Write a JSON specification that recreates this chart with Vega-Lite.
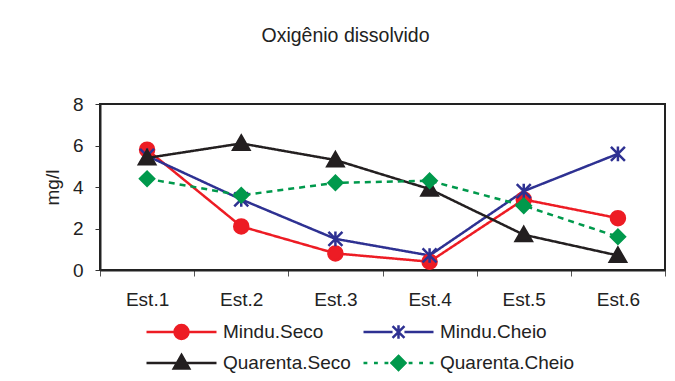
{
  "$schema": "https://vega.github.io/schema/vega-lite/v6.json",
  "width": 565,
  "height": 166,
  "autosize": {"type": "none"},
  "padding": {"left": 100, "top": 104, "right": 10, "bottom": 111},
  "background": "white",
  "title": {
    "text": "Oxigênio dissolvido",
    "anchor": "middle",
    "frame": "group",
    "dx": -37,
    "offset": 34,
    "baseline": "alphabetic",
    "font": "Liberation Sans",
    "fontSize": 19.5,
    "fontWeight": "normal",
    "color": "#222222"
  },
  "data": {
    "values": [
      {"estacao": "Est.1", "serie": "Mindu.Seco", "valor": 5.8},
      {"estacao": "Est.2", "serie": "Mindu.Seco", "valor": 2.1},
      {"estacao": "Est.3", "serie": "Mindu.Seco", "valor": 0.8},
      {"estacao": "Est.4", "serie": "Mindu.Seco", "valor": 0.4},
      {"estacao": "Est.5", "serie": "Mindu.Seco", "valor": 3.4},
      {"estacao": "Est.6", "serie": "Mindu.Seco", "valor": 2.5},
      {"estacao": "Est.1", "serie": "Mindu.Cheio", "valor": 5.5},
      {"estacao": "Est.2", "serie": "Mindu.Cheio", "valor": 3.4},
      {"estacao": "Est.3", "serie": "Mindu.Cheio", "valor": 1.5},
      {"estacao": "Est.4", "serie": "Mindu.Cheio", "valor": 0.7},
      {"estacao": "Est.5", "serie": "Mindu.Cheio", "valor": 3.8},
      {"estacao": "Est.6", "serie": "Mindu.Cheio", "valor": 5.6},
      {"estacao": "Est.1", "serie": "Quarenta.Seco", "valor": 5.4},
      {"estacao": "Est.2", "serie": "Quarenta.Seco", "valor": 6.1},
      {"estacao": "Est.3", "serie": "Quarenta.Seco", "valor": 5.3},
      {"estacao": "Est.4", "serie": "Quarenta.Seco", "valor": 3.9},
      {"estacao": "Est.5", "serie": "Quarenta.Seco", "valor": 1.7},
      {"estacao": "Est.6", "serie": "Quarenta.Seco", "valor": 0.7},
      {"estacao": "Est.1", "serie": "Quarenta.Cheio", "valor": 4.4},
      {"estacao": "Est.2", "serie": "Quarenta.Cheio", "valor": 3.6},
      {"estacao": "Est.3", "serie": "Quarenta.Cheio", "valor": 4.2},
      {"estacao": "Est.4", "serie": "Quarenta.Cheio", "valor": 4.3},
      {"estacao": "Est.5", "serie": "Quarenta.Cheio", "valor": 3.1},
      {"estacao": "Est.6", "serie": "Quarenta.Cheio", "valor": 1.6}
    ]
  },
  "encoding": {
    "x": {
      "field": "estacao",
      "type": "nominal",
      "sort": ["Est.1", "Est.2", "Est.3", "Est.4", "Est.5", "Est.6"],
      "bandPosition": 0.5,
      "scale": {"type": "band", "paddingInner": 0, "paddingOuter": 0},
      "axis": {
        "title": null,
        "labelAngle": 0,
        "tickBand": "extent",
        "tickSize": 6,
        "tickColor": "#555555",
        "domainColor": "#222222",
        "domainWidth": 2,
        "labelPadding": 14,
        "labelFont": "Liberation Sans",
        "labelFontSize": 19,
        "labelColor": "#222222",
        "grid": false
      }
    },
    "y": {
      "field": "valor",
      "type": "quantitative",
      "scale": {"domain": [0, 8], "nice": false, "zero": true},
      "axis": {
        "title": "mg/l",
        "values": [0, 2, 4, 6, 8],
        "grid": false,
        "tickSize": 5,
        "tickColor": "#333333",
        "domainColor": "#222222",
        "domainWidth": 2,
        "labelPadding": 12,
        "labelFont": "Liberation Sans",
        "labelFontSize": 19,
        "labelColor": "#222222",
        "titleFont": "Liberation Sans",
        "titleFontSize": 19,
        "titleFontWeight": "normal",
        "titleColor": "#222222",
        "titlePadding": 10
      }
    }
  },
  "layer": [
    {
      "mark": {"type": "line", "strokeWidth": 2.5},
      "encoding": {
        "stroke": {
          "field": "serie",
          "type": "nominal",
          "scale": {
            "domain": ["Mindu.Seco", "Mindu.Cheio", "Quarenta.Seco", "Quarenta.Cheio"],
            "range": ["#ed1c24", "#2e3192", "#231f20", "#00994c"]
          },
          "legend": null
        },
        "strokeDash": {
          "field": "serie",
          "type": "nominal",
          "scale": {
            "domain": ["Mindu.Seco", "Mindu.Cheio", "Quarenta.Seco", "Quarenta.Cheio"],
            "range": [[1, 0], [1, 0], [1, 0], [6, 5]]
          },
          "legend": null
        }
      }
    },
    {
      "mark": {"type": "point", "size": 196, "strokeWidth": 2.5, "opacity": 1},
      "encoding": {
        "stroke": {
          "field": "serie",
          "type": "nominal",
          "scale": {
            "domain": ["Mindu.Seco", "Mindu.Cheio", "Quarenta.Seco", "Quarenta.Cheio"],
            "range": ["#ed1c24", "#2e3192", "#231f20", "#00994c"]
          },
          "legend": null
        },
        "fill": {
          "field": "serie",
          "type": "nominal",
          "scale": {
            "domain": ["Mindu.Seco", "Mindu.Cheio", "Quarenta.Seco", "Quarenta.Cheio"],
            "range": ["#ed1c24", "transparent", "#231f20", "#00994c"]
          },
          "legend": null
        },
        "shape": {
          "field": "serie",
          "type": "nominal",
          "scale": {
            "domain": ["Mindu.Seco", "Mindu.Cheio", "Quarenta.Seco", "Quarenta.Cheio"],
            "range": ["circle", "M-1,-1L1,1M-1,1L1,-1M0,-1.05V1.05", "M0,-1.1L1.15,0.9L-1.15,0.9Z", "diamond"]
          },
          "legend": null
        }
      }
    },
    {
      "description": "Legend only: each key shows the series line with its marker.",
      "transform": [{"filter": "false"}],
      "mark": {"type": "point", "strokeWidth": 2.5, "opacity": 1},
      "encoding": {
        "stroke": {
          "field": "serie",
          "type": "nominal",
          "scale": {
            "domain": ["Mindu.Seco", "Mindu.Cheio", "Quarenta.Seco", "Quarenta.Cheio"],
            "range": ["#ed1c24", "#2e3192", "#231f20", "#00994c"]
          },
          "legend": {
            "title": null,
            "orient": "none",
            "legendX": 45,
            "legendY": 217,
            "padding": 0,
            "columns": 2,
            "direction": "horizontal",
            "symbolSize": 4900,
            "symbolStrokeWidth": 2.5,
            "clipHeight": 22,
            "rowPadding": 9,
            "columnPadding": 11,
            "labelOffset": 5,
            "labelFont": "Liberation Sans",
            "labelFontSize": 19,
            "labelColor": "#222222",
            "labelBaseline": "middle"
          }
        },
        "fill": {
          "field": "serie",
          "type": "nominal",
          "scale": {
            "domain": ["Mindu.Seco", "Mindu.Cheio", "Quarenta.Seco", "Quarenta.Cheio"],
            "range": ["#ed1c24", "transparent", "#231f20", "#00994c"]
          },
          "legend": {"title": null}
        },
        "shape": {
          "field": "serie",
          "type": "nominal",
          "scale": {
            "domain": ["Mindu.Seco", "Mindu.Cheio", "Quarenta.Seco", "Quarenta.Cheio"],
            "range": [
              "M-1,0H1M-0.2,0A0.2,0.2,0,1,1,0.2,0A0.2,0.2,0,1,1,-0.2,0Z",
              "M-1,0H-0.17M0.17,0H1M-0.17,-0.17L0.17,0.17M-0.17,0.17L0.17,-0.17M0,-0.19V0.19",
              "M-1,0H1M0,-0.23L0.22,0.16L-0.22,0.16Z",
              "M-1,0H-0.89M-0.7,0H-0.59M-0.4,0H-0.29M0.29,0H0.4M0.59,0H0.7M0.89,0H1M0,-0.2L0.2,0L0,0.2L-0.2,0Z"
            ]
          },
          "legend": {"title": null}
        }
      }
    }
  ],
  "resolve": {
    "scale": {"stroke": "independent", "fill": "independent", "shape": "independent", "strokeDash": "independent"},
    "legend": {"stroke": "independent", "fill": "independent", "shape": "independent", "strokeDash": "independent"}
  },
  "config": {
    "view": {"stroke": "#222222", "strokeWidth": 2},
    "font": "Liberation Sans"
  }
}
